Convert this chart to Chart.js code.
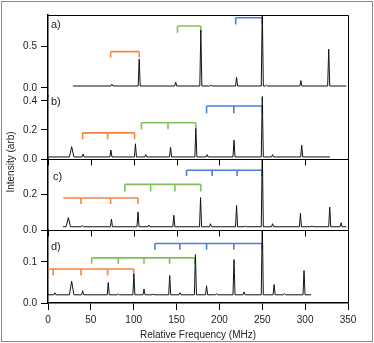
<!DOCTYPE html>
<html>
<head>
<meta charset="utf-8">
<script src="https://cdn.jsdelivr.net/npm/chart.js@4.4.1/dist/chart.umd.min.js"></script>
<style>
  html, body { margin: 0; padding: 0; background: #fff; }
  canvas { display: block; }
</style>
</head>
<body>
<canvas id="spectra" width="374" height="343"></canvas>
<script>
// shared frequency axis (MHz)
const xTicks = [0, 50, 100, 150, 200, 250, 300, 350];
const panelNames = ['a)', 'b)', 'c)', 'd)'];

// panel a
const aRange = [-0.097, 0.884];
const aTicks = [0, 0.5];
const aSpan = [29, 348];
const aBase = 0.024;
const aPeakMHz = [74.6, 106.4, 149, 178.3, 190, 220, 250, 255, 295, 327.5];
const aPeakHeight = [0.045, 0.35, 0.07, 0.70, 0.035, 0.13, 0.95, 0.035, 0.09, 0.47];
const aBroad = [];
const aBracketSpan = [[73, 106.4], [151, 178.3], [219, 250]];
const aBracketTicks = [[73, 106.4], [151, 178.3], [219, 250]];
const aBracketLevel = [[0.44, 0.37], [0.75, 0.67], [0.85, 0.77]];

// panel b
const bRange = [0, 0.434];
const bTicks = [0, 0.2, 0.4];
const bSpan = [0, 329];
const bBase = 0.014;
const bPeakMHz = [27.6, 41, 73.4, 102, 114, 143, 172.5, 185.7, 217, 250, 262, 296];
const bPeakHeight = [0.085, 0.035, 0.062, 0.105, 0.03, 0.08, 0.21, 0.03, 0.13, 0.43, 0.03, 0.095];
const bBroad = [27.6];
const bBracketSpan = [[40.4, 101], [109, 172.5], [185, 250]];
const bBracketTicks = [[40.4, 69.6, 101], [109, 140, 172.5], [185, 216.8, 250]];
const bBracketLevel = [[0.18, 0.136], [0.25, 0.205], [0.365, 0.315]];

// panel c
const cRange = [0, 0.395];
const cTicks = [0, 0.2];
const cSpan = [17.5, 348];
const cBase = 0.018;
const cPeakMHz = [23.7, 40, 74, 105, 117.7, 146.8, 178, 189.6, 220, 230, 250, 262, 294.5, 308, 328.7, 342];
const cPeakHeight = [0.069, 0.025, 0.06, 0.1, 0.028, 0.082, 0.18, 0.035, 0.136, 0.022, 0.45, 0.035, 0.093, 0.022, 0.127, 0.04];
const cBroad = [23.7];
const cBracketSpan = [[17.9, 105], [89.7, 178.3], [161.6, 250]];
const cBracketTicks = [[38.5, 73, 105], [89.7, 119.7, 148, 178.3], [161.6, 191.5, 220.6, 250]];
const cBracketLevel = [[0.178, 0.145], [0.254, 0.214], [0.332, 0.30]];

// panel d
const dRange = [0, 0.178];
const dTicks = [0, 0.1];
const dSpan = [0, 307];
const dBase = 0.02;
const dPeakMHz = [8, 27.6, 40.4, 70.3, 82, 100.2, 112, 122.6, 142, 154, 172, 185, 196.6, 217, 228.8, 250, 263.8, 276, 298.7];
const dPeakHeight = [0.025, 0.053, 0.03, 0.05, 0.022, 0.071, 0.034, 0.022, 0.067, 0.025, 0.118, 0.042, 0.023, 0.106, 0.027, 0.2, 0.045, 0.023, 0.079];
const dBroad = [27.6];
const dBracketSpan = [[0, 100], [50.9, 171.3], [124.7, 250]];
const dBracketTicks = [[6, 38.5, 69.6, 100], [50.9, 82, 112, 141.8, 171.3], [124.7, 153.8, 185, 216.8, 250]];
const dBracketLevel = [[0.083, 0.067], [0.11, 0.096], [0.145, 0.13]];

const bracketColors = ['#f58540', '#7fc15c', '#4a7fd6'];
const FONT = '"Liberation Sans", Arial, sans-serif';
const TEXT = '#222';

Chart.defaults.font.family = FONT;
Chart.defaults.font.size = 10;
Chart.defaults.color = TEXT;

// stick spectrum from the read peak list
function trace(span, base, mhz, height, broad) {
  const pts = [{ x: span[0], y: base }];
  mhz.forEach((m, i) => {
    const w = broad.includes(m) ? 2.6 : 1.2;
    pts.push({ x: m - w, y: base }, { x: m, y: height[i] }, { x: m + w, y: base });
  });
  pts.push({ x: span[1], y: base });
  return pts;
}

function bracket(span, ticks, level) {
  const pts = [{ x: span[0], y: level[0] }, { x: span[1], y: level[0] }, { x: span[1], y: null }];
  ticks.forEach(t => {
    pts.push({ x: t, y: level[0] }, { x: t, y: level[1] }, { x: t, y: null });
  });
  return pts;
}

const panels = [
  { id: 'ya', span: aSpan, base: aBase, mhz: aPeakMHz, h: aPeakHeight, broad: aBroad, bs: aBracketSpan, bt: aBracketTicks, bl: aBracketLevel },
  { id: 'yb', span: bSpan, base: bBase, mhz: bPeakMHz, h: bPeakHeight, broad: bBroad, bs: bBracketSpan, bt: bBracketTicks, bl: bBracketLevel },
  { id: 'yc', span: cSpan, base: cBase, mhz: cPeakMHz, h: cPeakHeight, broad: cBroad, bs: cBracketSpan, bt: cBracketTicks, bl: cBracketLevel },
  { id: 'yd', span: dSpan, base: dBase, mhz: dPeakMHz, h: dPeakHeight, broad: dBroad, bs: dBracketSpan, bt: dBracketTicks, bl: dBracketLevel }
];

const datasets = [];
panels.forEach(p => {
  datasets.push({
    data: trace(p.span, p.base, p.mhz, p.h, p.broad),
    yAxisID: p.id,
    borderColor: '#111',
    borderWidth: 1
  });
});
panels.forEach(p => {
  p.bs.forEach((s, i) => {
    datasets.push({
      data: bracket(s, p.bt[i], p.bl[i]),
      yAxisID: p.id,
      borderColor: bracketColors[i],
      borderWidth: 1.6
    });
  });
});

function yAxis(range, ticks, weight) {
  return {
    type: 'linear',
    position: 'left',
    stack: 'panels',
    stackWeight: weight,
    min: range[0],
    max: range[1],
    afterFit: s => { s.width = 48; },
    afterBuildTicks: s => { s.ticks = ticks.map(v => ({ value: v })); },
    border: { color: '#000', width: 1.5 },
    grid: { drawOnChartArea: false, tickLength: 7, color: '#000' },
    ticks: { padding: 4, callback: v => v.toFixed(1) }
  };
}

const panelDecor = {
  id: 'panelDecor',
  afterDraw(chart) {
    const { ctx, chartArea: area, scales } = chart;
    const x = scales.x;
    ctx.save();
    ctx.strokeStyle = '#000';
    ctx.lineWidth = 1;
    ctx.beginPath();
    ctx.moveTo(area.left, area.top + 0.5);
    ctx.lineTo(area.right + 0.5, area.top + 0.5);
    ctx.lineTo(area.right + 0.5, area.bottom);
    ctx.stroke();

    // separators b|c and c|d with ticks hanging down
    ['yb', 'yc'].forEach(id => {
      const y = Math.round(scales[id].bottom) + 0.5;
      ctx.beginPath();
      ctx.moveTo(area.left, y);
      ctx.lineTo(area.right, y);
      xTicks.forEach(v => {
        const px = Math.round(x.getPixelForValue(v)) + 0.5;
        ctx.moveTo(px, y);
        ctx.lineTo(px, y + 6);
      });
      ctx.stroke();
    });

    ctx.fillStyle = TEXT;
    ctx.font = '11px ' + FONT;
    ctx.textBaseline = 'middle';
    ctx.textAlign = 'left';
    const offs = [[3, 9.5], [3, 5.7], [5, 17.7], [3, 16.7]];
    panels.forEach((p, i) => {
      ctx.fillText(panelNames[i], area.left + offs[i][0], scales[p.id].top + offs[i][1]);
    });

    ctx.font = '10px ' + FONT;
    ctx.save();
    ctx.translate(11, (area.top + area.bottom) / 2 + 3);
    ctx.rotate(-Math.PI / 2);
    ctx.textAlign = 'center';
    ctx.fillText('Intensity (arb)', 0, 0);
    ctx.restore();

    ctx.strokeStyle = '#8a8a8a';
    ctx.strokeRect(1.5, 1.5, 371, 340);
    ctx.restore();
  }
};

new Chart(document.getElementById('spectra'), {
  type: 'line',
  data: { datasets },
  options: {
    responsive: false,
    animation: false,
    devicePixelRatio: 1,
    layout: { padding: { left: 0, top: 15, right: 26, bottom: 0 } },
    elements: { point: { radius: 0 }, line: { tension: 0 } },
    plugins: { legend: { display: false }, tooltip: { enabled: false } },
    scales: {
      x: {
        type: 'linear',
        position: 'bottom',
        min: 0,
        max: 350,
        afterFit: s => { s.height = 40; },
        afterBuildTicks: s => { s.ticks = xTicks.map(v => ({ value: v })); },
        border: { color: '#000', width: 1.5 },
        grid: { drawOnChartArea: false, tickLength: 7, color: '#000' },
        ticks: { padding: 4, maxRotation: 0 },
        title: { display: true, text: 'Relative Frequency (MHz)', padding: { top: 0, bottom: 1.5 } }
      },
      yd: yAxis(dRange, dTicks, 73),
      yc: yAxis(cRange, cTicks, 71),
      yb: yAxis(bRange, bTicks, 63),
      ya: yAxis(aRange, aTicks, 81)
    }
  },
  plugins: [panelDecor]
});
</script>
</body>
</html>
